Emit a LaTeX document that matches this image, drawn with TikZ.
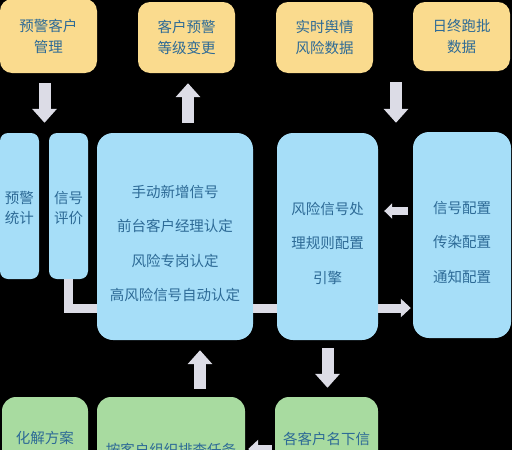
\documentclass[tikz,border=0pt]{standalone}
\usepackage{fontspec}
\setmainfont{Noto Sans CJK SC}
\usetikzlibrary{arrows.meta, calc}

\definecolor{warnyellow}{HTML}{FADB8E}
\definecolor{skyblue}{HTML}{A6DEF8}
\definecolor{leafgreen}{HTML}{A8DBA0}
\definecolor{arrowgray}{HTML}{DCDCE6}
\definecolor{inkblue}{HTML}{2D6A96}

\tikzset{
    ybox/.style={fill=warnyellow, rounded corners=12pt, minimum width=97pt, minimum height=71pt, inner sep=0pt},
    bbox/.style={fill=skyblue, rounded corners=16pt, inner sep=0pt},
    gbox/.style={fill=leafgreen, rounded corners=14pt, inner sep=0pt, minimum height=110pt},
    txt/.style={text=inkblue, align=center, inner sep=0pt, font=\fontsize{14.5pt}{21pt}\selectfont},
    widetxt/.style={txt, font=\fontsize{14.5pt}{34.5pt}\selectfont},
    blockarrow/.style={draw=arrowgray, line width=12pt, -{Triangle[width=24pt,length=14pt]}},
    feed/.style={draw=arrowgray, line width=9pt},
    slimarrow/.style={feed, -{Triangle[width=18pt,length=10pt]}}
}

\begin{document}
\begin{tikzpicture}[x=1pt, y=-1pt]
    \clip (0,0) rectangle (512,450);
    \fill[black] (0,0) rectangle (512,450);

    % Top row
    \node[ybox, txt, minimum height=74pt] (mgmt) at (48.5,36) {预警客户\\管理};
    \node[ybox, txt] (grade) at (186.5,37.5) {客户预警\\等级变更};
    \node[ybox, txt] (realtime) at (324.5,37.5) {实时舆情\\风险数据};
    \node[ybox, txt, minimum height=69pt] (batch) at (461.5,36.5) {日终跑批\\数据};

    % Middle row
    \node[bbox, rounded corners=8pt, minimum width=39pt, minimum height=146pt] (stat) at (19.5,206) {};
    \node[bbox, rounded corners=8pt, minimum width=39pt, minimum height=146pt] (eval) at (68.5,206) {};
    \node[bbox, minimum width=156pt, minimum height=207pt] (judge) at (175,236.5) {};
    \node[bbox, minimum width=101pt, minimum height=207pt] (engine) at (327.5,236.5) {};
    \node[bbox, minimum width=98pt, minimum height=206pt] (config) at (462,235) {};

    \node[txt, font=\fontsize{14.5pt}{20pt}\selectfont] (stattext) at (19.5,208) {预警\\统计};
    \node[txt, font=\fontsize{14.5pt}{20pt}\selectfont] (evaltext) at (68.5,208) {信号\\评价};
    \node[widetxt] (judgetext) at (175,243.5) {手动新增信号\\前台客户经理认定\\风险专岗认定\\高风险信号自动认定};
    \node[widetxt] (enginetext) at (327.5,243) {风险信号处\\理规则配置\\引擎};
    \node[widetxt] (configtext) at (462,242) {信号配置\\传染配置\\通知配置};

    % Bottom row
    \node[gbox, minimum width=86pt] (plan) at (45,452) {};
    \node[gbox, minimum width=148pt] (task) at (171,452) {};
    \node[gbox, minimum width=103pt] (siginfo) at (326.5,452) {};

    \node[txt] (plantext) at (45,438) {化解方案};
    \node[txt] (tasktext) at (171,450) {按客户组织排查任务};
    \node[txt] (siginfotext) at (326.5,439) {各客户名下信};

    % Block arrows
    \draw[blockarrow, shorten <=10pt, shorten >=10pt] ([xshift=-4pt]mgmt.south) -- ([xshift=-4pt]mgmt.south |- stat.north);
    \draw[blockarrow, shorten <=10pt, shorten >=10pt] ([xshift=1.5pt]grade.south |- judge.north) -- ([xshift=1.5pt]grade.south);
    \coordinate (merge) at ($(realtime.south)!0.5!(batch.south)+(3,0)$);
    \draw[blockarrow, shorten <=10pt, shorten >=10pt] (merge) -- (merge |- engine.north);
    \draw[blockarrow, shorten <=8pt, shorten >=9pt] (engine.south) -- (engine.south |- siginfo.north);
    \draw[blockarrow, shorten <=8pt, shorten >=10pt] ([xshift=29pt]task.north) -- ([xshift=29pt]task.north |- judge.south);

    % Feed line
    \draw[feed] (eval.south) |- (judge.west |- 0,308);
    \draw[feed] (judge.east |- 0,308) -- (engine.west |- 0,308);
    \draw[slimarrow, shorten >=2pt] (engine.east |- 0,308) -- (config.west |- 0,308);

    % Small arrows
    \draw[slimarrow, line width=8pt, -{Triangle[width=15pt,length=8pt]}, shorten <=5pt, shorten >=6pt] (config.west |- 0,211) -- (engine.east |- 0,211);
    \draw[slimarrow, shorten <=3pt, shorten >=3pt] (siginfo.west |- 0,449) -- (task.east |- 0,449);
\end{tikzpicture}
\end{document}
